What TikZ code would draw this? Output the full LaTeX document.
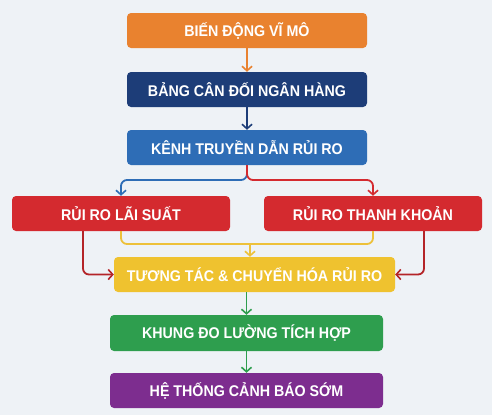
\documentclass[tikz,border=0pt]{standalone}
\usepackage{fontspec}
\setmainfont[FakeStretch=0.92]{Liberation Sans}
\usetikzlibrary{arrows.meta}
\definecolor{bgc}{HTML}{EEF2F6}
\definecolor{corange}{HTML}{E9822F}
\definecolor{cnavy}{HTML}{1D3D78}
\definecolor{cblue}{HTML}{2E6DB6}
\definecolor{cred}{HTML}{D42A2F}
\definecolor{cyellow}{HTML}{EFC22F}
\definecolor{cgreen}{HTML}{2E9E4E}
\definecolor{cpurple}{HTML}{7D2D8F}
\definecolor{cyline}{HTML}{EDC13A}
\begin{document}
\begin{tikzpicture}[x=1pt,y=-1pt,
  box/.style={rounded corners=4pt, minimum height=35pt, inner sep=0pt,
    text=white, font=\bfseries\fontsize{15.5}{17}\selectfont},
  conn/.style={line width=1.8pt, rounded corners=6pt,
    -{Straight Barb[length=4.5pt,width=10pt,line width=1.6pt]}},
  flat/.style={line width=1.8pt, rounded corners=6pt}]
\fill[bgc] (0,0) rectangle (492,415);
\useasboundingbox (0,0) rectangle (492,415);
\node[box, fill=corange, minimum width=240pt] (b1) at (247,30.5) {BIẾN ĐỘNG VĨ MÔ};
\node[box, fill=cnavy, minimum width=240pt] (b2) at (247,89.5) {BẢNG CÂN ĐỐI NGÂN HÀNG};
\node[box, fill=cblue, minimum width=240pt] (b3) at (247,147.5) {KÊNH TRUYỀN DẪN RỦI RO};
\node[box, fill=cred, minimum width=218pt] (b4) at (121,213.5) {RỦI RO LÃI SUẤT};
\node[box, fill=cred, minimum width=218pt] (b5) at (373,213.5) {RỦI RO THANH KHOẢN};
\node[box, fill=cyellow, minimum width=281pt] (b6) at (254.5,274.5) {TƯƠNG TÁC \& CHUYỂN HÓA RỦI RO};
\node[box, fill=cgreen, minimum width=273pt, minimum height=36pt] (b7) at (246.5,333) {KHUNG ĐO LƯỜNG TÍCH HỢP};
\node[box, fill=cpurple, minimum width=273pt] (b8) at (246.5,390.5) {HỆ THỐNG CẢNH BÁO SỚM};
\coordinate (sp) at (247,180);
\coordinate (m) at (250,244);
\draw[conn, corange] (b1.south) -- (b2.north);
\draw[conn, cnavy] (b2.south) -- (b3.north);
\draw[conn, cblue] (b3.south) -- (sp) -| (b4.north);
\draw[conn, cred] (b3.south) -- (sp) -| (b5.north);
\draw[flat, cyline] (b4.south) |- (m) -| (b5.south);
\draw[conn, cyline] (m) -- (m |- b6.north);
\draw[conn, cred!85!black] ([xshift=-38pt]b4.south) |- (b6.west);
\draw[conn, cred!85!black] ([xshift=51pt]b5.south) |- (b6.east);
\draw[conn, cgreen] (b7.north |- b6.south) -- (b7.north);
\draw[conn, cgreen] (b7.south) -- (b8.north);
\end{tikzpicture}
\end{document}
